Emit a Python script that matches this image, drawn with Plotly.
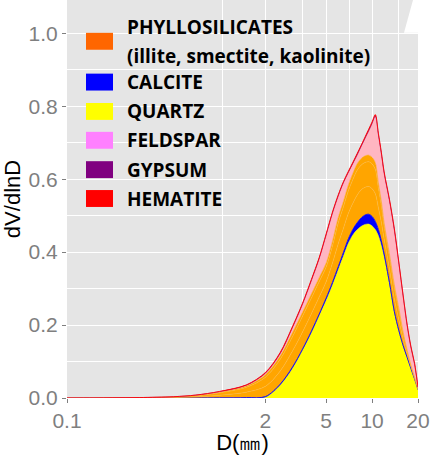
import plotly.graph_objects as go

# ---------------- data ----------------
D = [0.1, 0.15, 0.2, 0.3, 0.5, 0.7, 1, 1.5,
     2, 2.5, 3, 3.5, 4, 4.5, 5, 5.5, 6, 6.5,
     7, 7.5, 8, 8.5, 9, 9.5, 10, 10.5, 11, 11.5,
     12, 13, 14, 15, 16, 17, 18, 19, 20]

quartz = [0, 0, 0, 0, 0, 0, 0, 0,
          0.002, 0.035, 0.08, 0.13, 0.178, 0.225, 0.268, 0.31, 0.352, 0.39,
          0.425, 0.448, 0.462, 0.471, 0.476, 0.477, 0.472, 0.462, 0.445, 0.418,
          0.385, 0.31, 0.232, 0.18, 0.14, 0.108, 0.078, 0.05, 0.022]

calcite = [0, 0, 0, 0, 0, 0, 0.0005, 0.001,
           0.002, 0.003, 0.004, 0.004, 0.005, 0.005, 0.006, 0.007, 0.008, 0.01,
           0.012, 0.015, 0.019, 0.023, 0.026, 0.027, 0.026, 0.022, 0.017, 0.013,
           0.01, 0.007, 0.005, 0.004, 0.003, 0.003, 0.002, 0.002, 0.001]

illite = [0, 0.0001, 0.0002, 0.0005, 0.0014, 0.0033, 0.0073, 0.015,
          0.028, 0.036, 0.044, 0.047, 0.048, 0.047, 0.045, 0.053, 0.063, 0.066,
          0.070, 0.072, 0.076, 0.077, 0.076, 0.076, 0.076, 0.076, 0.060, 0.051,
          0.040, 0.037, 0.034, 0.029, 0.017, 0.009, 0.005, 0.002, 0.001]

smectite = [0, 0.0001, 0.0002, 0.0004, 0.0013, 0.0029, 0.0065, 0.0134,
            0.025, 0.032, 0.039, 0.043, 0.043, 0.042, 0.040, 0.047, 0.057, 0.059,
            0.062, 0.065, 0.068, 0.068, 0.068, 0.068, 0.068, 0.067, 0.054, 0.046,
            0.036, 0.033, 0.031, 0.026, 0.016, 0.009, 0.004, 0.002, 0.001]

kaolinite = [0, 0, 0.0001, 0.0001, 0.0003, 0.0008, 0.0017, 0.0036,
             0.007, 0.009, 0.011, 0.011, 0.011, 0.011, 0.011, 0.013, 0.015, 0.015,
             0.016, 0.017, 0.018, 0.018, 0.018, 0.018, 0.018, 0.018, 0.014, 0.012,
             0.009, 0.008, 0.008, 0.006, 0.004, 0.002, 0.001, 0.001, 0]

feldspar = [0, 0, 0.0001, 0.0002, 0.0005, 0.001, 0.0015, 0.002,
            0.004, 0.007, 0.014, 0.022, 0.037, 0.052, 0.077, 0.077, 0.059, 0.051,
            0.034, 0.027, 0.023, 0.032, 0.047, 0.065, 0.091, 0.126, 0.13, 0.128,
            0.134, 0.144, 0.148, 0.122, 0.097, 0.066, 0.047, 0.035, 0.004]

gypsum = [0, 0, 0, 0, 0, 0, 0, 0,
          0, 0, 0, 0, 0, 0, 0, 0, 0, 0,
          0, 0, 0.002, 0.002, 0.002, 0.002, 0.002, 0.002, 0.002, 0.002,
          0.002, 0.002, 0.002, 0, 0, 0, 0, 0, 0]

hematite = [0, 0, 0, 0, 0, 0, 0.0005, 0.001,
            0.002, 0.003, 0.003, 0.003, 0.003, 0.003, 0.003, 0.003, 0.003, 0.003,
            0.003, 0.003, 0.003, 0.003, 0.003, 0.004, 0.004, 0.004, 0.004, 0.004,
            0.004, 0.004, 0.004, 0.003, 0.003, 0.003, 0.003, 0.003, 0.001]

x_tick_vals = [0.1, 2, 5, 10, 20]
x_tick_text = ["0.1", "2", "5", "10", "20"]
x_minor_vals = [1.05, 3.5, 7.1, 15]

legend_labels = ["PHYLLOSILICATES<br>(illite, smectite, kaolinite)", "CALCITE", "QUARTZ",
                 "FELDSPAR", "GYPSUM", "HEMATITE"]
legend_colors = ["#FF6600", "#0000FF", "#FFFF00", "#FF80FF", "#800080", "#FF0000"]

# ---------------- figure ----------------
W, H = 433, 455
ML, MR, MT, MB = 67, 15, 0, 55
PW, PH = W - ML - MR, H - MT - MB

layers = [
    ("Quartz", quartz, "#FFFF00", "#FFFF00", 0.5),
    ("Calcite", calcite, "#0000FF", "#0000FF", 0.9),
    ("Illite", illite, "#FFA500", "#FFBB45", 0.5),
    ("Smectite", smectite, "#FFA500", "#FFBB45", 0.5),
    ("Kaolinite", kaolinite, "#FFA500", "#FFA500", 0.5),
    ("Feldspar", feldspar, "#FFB6C1", "#FFB6C1", 0.5),
    ("Gypsum", gypsum, "#800080", "#800080", 0.5),
    ("Hematite", hematite, "#FF0000", "#FF0000", 0.9),
]

fig = go.Figure()
for name, vals, fillc, linec, lw in layers:
    fig.add_trace(go.Scatter(
        x=D, y=vals, name=name, mode="lines", stackgroup="one",
        fillcolor=fillc, line=dict(color=linec, width=lw, shape="spline", smoothing=0.9),
        showlegend=False, hoverinfo="skip"))


def px_x(p):
    return (p - ML) / PW


def px_y(p):
    return (H - MB - p) / PH


shapes = []
annotations = []

# custom legend
row_centers = [41.5, 82.5, 112, 141, 170.5, 199.5]
for lab, col, yc in zip(legend_labels, legend_colors, row_centers):
    shapes.append(dict(type="rect", xref="paper", yref="paper",
                       x0=px_x(86), x1=px_x(113), y0=px_y(yc + 8.5), y1=px_y(yc - 8.5),
                       fillcolor=col, line=dict(width=0), layer="above"))
    lines = lab.split("<br>")
    n = len(lines)
    for k, t in enumerate(lines):
        ty = yc + (k - (n - 1) / 2) * 29
        annotations.append(dict(text="<b>" + t + "</b>", xref="paper", yref="paper",
                                x=px_x(125), y=px_y(ty), xanchor="left", yanchor="middle",
                                showarrow=False,
                                font=dict(family="Open Sans", size=19, color="black")))

# small white patch at top-right of the panel
shapes.append(dict(type="path", xref="paper", yref="paper",
                   path="M {},{} L {},{} L {},{} L {},{} Z".format(
                       px_x(404), px_y(33), px_x(413), px_y(0),
                       px_x(419), px_y(0), px_x(419), px_y(33)),
                   fillcolor="white", line=dict(width=0), layer="above"))

fig.update_layout(
    width=W, height=H,
    margin=dict(l=ML, r=MR, t=MT, b=MB, pad=0),
    paper_bgcolor="white", plot_bgcolor="#E5E5E5",
    shapes=shapes, annotations=annotations,
    showlegend=False,
)

fig.update_xaxes(
    type="log", range=[-1, 1.30103],
    tickmode="array", tickvals=x_tick_vals, ticktext=x_tick_text,
    ticks="outside", ticklen=4, tickwidth=1.2, tickcolor="#7F7F7F",
    tickfont=dict(family="Liberation Sans", size=21, color="#7F7F7F"),
    showgrid=True, gridcolor="white", gridwidth=1.3,
    minor=dict(tickmode="array", tickvals=x_minor_vals, showgrid=True,
               gridcolor="white", gridwidth=0.7),
    showline=False, zeroline=False,
    title=dict(text="D(㎜)", font=dict(family="Liberation Sans", size=22, color="black"),
               standoff=7),
)
fig.update_yaxes(
    range=[0, 1.0914], tick0=0, dtick=0.2, tickformat=".1f",
    ticks="outside", ticklen=4, tickwidth=1.2, tickcolor="#7F7F7F",
    tickfont=dict(family="Liberation Sans", size=21, color="#7F7F7F"),
    showgrid=True, gridcolor="white", gridwidth=1.3,
    minor=dict(dtick=0.1, tick0=0, showgrid=True, gridcolor="white", gridwidth=0.7),
    showline=False, zeroline=False,
    title=dict(text="dV/dlnD", font=dict(family="Liberation Sans", size=22, color="black"),
               standoff=2),
)

fig.write_html("out.html")
